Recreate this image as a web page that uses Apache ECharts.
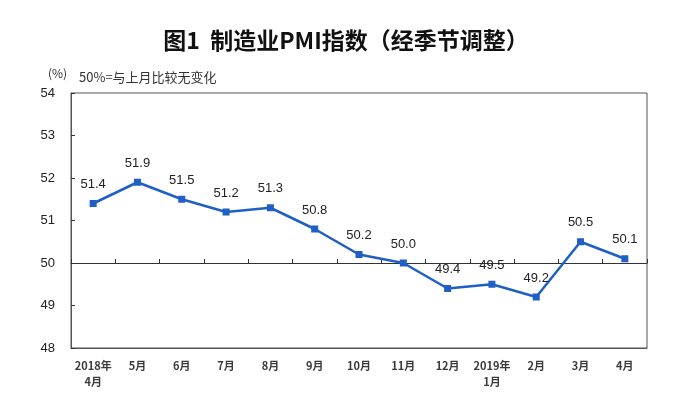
<!DOCTYPE html>
<html><head><meta charset="utf-8">
<script src="https://cdn.jsdelivr.net/npm/echarts@6/dist/echarts.min.js"></script>
<style>html,body{margin:0;padding:0;background:#fff}#c{width:692px;height:408px}</style>
</head><body><div id="c"></div>
<script>
var categories = ['2018年\n4月','5月','6月','7月','8月','9月','10月','11月','12月','2019年\n1月','2月','3月','4月'];
var pmiValues = [51.4,51.9,51.5,51.2,51.3,50.8,50.2,50.0,49.4,49.5,49.2,50.5,50.1];
var yTicks = [48,49,50,51,52,53,54];

var chart = echarts.init(document.getElementById('c'));
var gridTop = 93, gridBottom = 60, gridH = 408 - gridTop - gridBottom;
var yMin = yTicks[0], yMax = yTicks[yTicks.length-1];
var offset50 = -gridH * (50 - yMin) / (yMax - yMin);
chart.setOption({
  animation: false,
  title: [{
    text: '图1  制造业PMI指数（经季节调整）',
    left: 'center', top: 24,
    textStyle: {fontFamily: 'Noto Sans CJK SC', fontSize: 23, fontWeight: 'bold', color: '#111'}
  },{
    text: '(%)',
    left: 43, top: 62,
    textStyle: {fontFamily: 'Noto Sans CJK SC', fontSize: 12, fontWeight: 'normal', color: '#333'}
  },{
    text: '50%=与上月比较无变化',
    left: 74, top: 66,
    textStyle: {fontFamily: 'Noto Sans CJK SC', fontSize: 13, fontWeight: 'normal', color: '#333'}
  }],
  grid: {left: 71, right: 45, top: gridTop, bottom: gridBottom, show: true, borderColor: '#555', borderWidth: 1, backgroundColor: 'transparent'},
  xAxis: [{
    type: 'category', data: categories, boundaryGap: true, position: 'bottom',
    axisLine: {show: true, lineStyle: {color: '#555'}},
    axisTick: {show: false},
    axisLabel: {interval: 0, fontFamily: 'Noto Sans CJK SC', fontSize: 11, fontWeight: 'bold', color: '#3a3a3a', margin: 10, lineHeight: 16}
  },{
    type: 'category', data: categories, boundaryGap: true, position: 'bottom', offset: offset50,
    axisLine: {show: true, onZero: false, lineStyle: {color: '#333'}},
    axisTick: {show: true, inside: true, length: 4, interval: 0, lineStyle: {color: '#333'}},
    axisLabel: {show: false}
  }],
  yAxis: {
    type: 'value', min: yMin, max: yMax, interval: 1,
    axisLine: {show: true, lineStyle: {color: '#555'}},
    axisTick: {show: true, inside: true, length: 4, lineStyle: {color: '#333'}},
    splitLine: {show: false},
    axisLabel: {fontFamily: 'Liberation Sans Narrow, Liberation Sans', fontSize: 13, color: '#222', margin: 16}
  },
  series: [{
    type: 'line', data: pmiValues, xAxisIndex: 0,
    symbol: 'rect', symbolSize: 7,
    lineStyle: {color: '#1f5fc6', width: 2.5},
    itemStyle: {color: '#1f5fc6'},
    label: {show: true, position: 'top', distance: 9, fontFamily: 'Liberation Sans', fontSize: 13, color: '#222',
      formatter: function(p){ return p.value.toFixed(1); }}
  }]
});
</script></body></html>
